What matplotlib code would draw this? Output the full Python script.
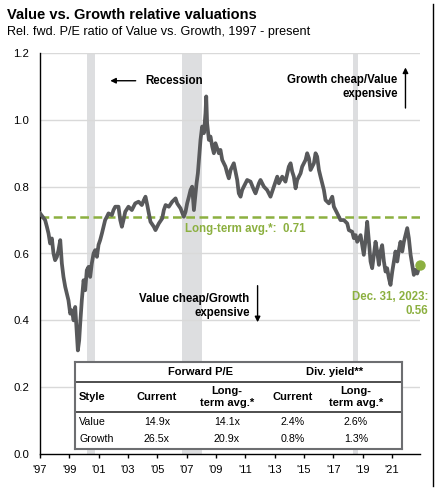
import matplotlib
matplotlib.use("Agg")
import numpy as np
from matplotlib import pyplot as plt
from matplotlib.lines import Line2D

plt.rcParams['font.family'] = ['Liberation Sans', 'DejaVu Sans']

# relative fwd P/E, value vs growth
years = [1997.01, 1997.35, 1997.47, 1997.58, 1997.69, 1997.81, 1997.92, 1998.03, 1998.15, 1998.26,
         1998.38, 1998.49, 1998.60, 1998.72, 1998.83, 1998.94, 1999.06, 1999.17, 1999.29, 1999.40,
         1999.51, 1999.58, 1999.67, 1999.74, 1999.85, 1999.97, 2000.08, 2000.19, 2000.31, 2000.42,
         2000.53, 2000.65, 2000.76, 2000.88, 2000.99, 2001.10, 2001.22, 2001.33, 2001.44, 2001.56,
         2001.67, 2001.90, 2002.01, 2002.13, 2002.35, 2002.47, 2002.58, 2002.69, 2002.81, 2003.03,
         2003.26, 2003.49, 2003.72, 2003.94,
         2004.08, 2004.19, 2004.31, 2004.42, 2004.53, 2004.76, 2004.87, 2005.10, 2005.33, 2005.44,
         2005.56, 2005.78, 2006.01, 2006.24, 2006.35, 2006.58, 2006.80, 2006.92, 2007.03, 2007.15,
         2007.26, 2007.37, 2007.49, 2007.67, 2007.76, 2007.85, 2007.94, 2008.05, 2008.17, 2008.28,
         2008.33, 2008.39, 2008.51, 2008.62, 2008.74, 2008.85, 2008.96, 2009.19, 2009.30, 2009.42,
         2009.64, 2009.76, 2009.87, 2009.99, 2010.10, 2010.21, 2010.44, 2010.55, 2010.67, 2010.78,
         2010.89, 2011.12,
         2011.35, 2011.58, 2011.69, 2011.92, 2012.03, 2012.26, 2012.48, 2012.71, 2012.94, 2013.17,
         2013.28, 2013.51, 2013.73, 2013.96, 2014.08, 2014.19, 2014.30, 2014.42, 2014.53, 2014.76,
         2014.87, 2015.10, 2015.21, 2015.33, 2015.44, 2015.67, 2015.78, 2015.89, 2016.01, 2016.12,
         2016.35, 2016.46, 2016.69, 2016.92, 2017.03, 2017.26, 2017.48,
         2017.71, 2017.94, 2018.05, 2018.28, 2018.39, 2018.51, 2018.62, 2018.85, 2018.96, 2019.07,
         2019.19, 2019.30, 2019.42, 2019.53, 2019.64, 2019.76, 2019.87, 2019.98, 2020.10, 2020.21,
         2020.32, 2020.44, 2020.55, 2020.66, 2020.78, 2020.89, 2021.01, 2021.12, 2021.23, 2021.35,
         2021.46, 2021.57, 2021.69, 2021.80, 2021.91, 2022.03, 2022.14, 2022.26, 2022.37, 2022.48,
         2022.60, 2022.71, 2022.82, 2022.89]
ratio = [0.72, 0.70, 0.68, 0.66, 0.63, 0.645, 0.60, 0.58, 0.59, 0.61,
         0.64, 0.57, 0.53, 0.50, 0.48, 0.46, 0.42, 0.43, 0.40, 0.44,
         0.36, 0.31, 0.34, 0.39, 0.46, 0.52, 0.49, 0.55, 0.56, 0.53,
         0.57, 0.60, 0.61, 0.59, 0.626, 0.64, 0.66, 0.68, 0.70, 0.71,
         0.72, 0.715, 0.73, 0.74, 0.74, 0.70, 0.68, 0.70, 0.725, 0.74,
         0.73, 0.75, 0.755, 0.745,
         0.76, 0.77, 0.745, 0.72, 0.695, 0.68, 0.67, 0.69, 0.705, 0.73,
         0.745, 0.74, 0.755, 0.765, 0.75, 0.735, 0.71, 0.725, 0.75, 0.77,
         0.79, 0.80, 0.73, 0.81, 0.84, 0.89, 0.94, 0.98, 0.96, 1.02,
         1.07, 0.99, 0.94, 0.95, 0.92, 0.90, 0.93, 0.90, 0.91, 0.88,
         0.86, 0.84, 0.825, 0.85, 0.86, 0.87, 0.82, 0.78, 0.77, 0.79,
         0.80, 0.82,
         0.815, 0.79, 0.78, 0.81, 0.82, 0.80, 0.79, 0.77, 0.80, 0.83,
         0.81, 0.83, 0.815, 0.86, 0.87, 0.845, 0.83, 0.795, 0.82, 0.84,
         0.86, 0.88, 0.90, 0.885, 0.85, 0.87, 0.90, 0.89, 0.85, 0.83,
         0.79, 0.76, 0.75, 0.77, 0.74, 0.72, 0.70,
         0.70, 0.69, 0.67, 0.665, 0.646, 0.655, 0.635, 0.655, 0.626, 0.596,
         0.64, 0.695, 0.635, 0.576, 0.556, 0.596, 0.635, 0.606, 0.566, 0.606,
         0.625, 0.576, 0.546, 0.556, 0.526, 0.506, 0.546, 0.576, 0.606, 0.576,
         0.61, 0.635, 0.606, 0.635, 0.655, 0.676, 0.646, 0.596, 0.566, 0.536,
         0.551, 0.54, 0.556, 0.566]

long_term_avg = 0.71
recessions = [(2000.2, 2000.73), (2006.66, 2008.02), (2018.3, 2018.65)]
xticks = list(range(1997, 2022, 2))
xtick_labels = ["'%02d" % (y % 100) for y in xticks]
yticks = [0.0, 0.2, 0.4, 0.6, 0.8, 1.0, 1.2]

table_cols = ["Style", "Current", "Long-\nterm avg.*", "Current", "Long-\nterm avg.*"]
table_rows = [["Value", "14.9x", "14.1x", "2.4%", "2.6%"],
              ["Growth", "26.5x", "20.9x", "0.8%", "1.3%"]]

GRAY = '#58595B'
GREEN = '#8CB040'

fig = plt.figure(figsize=(4.41, 4.94), dpi=100)
ax = fig.add_axes([40 / 441, 40 / 494, 380 / 441, 401 / 494])

for a, b in recessions:
    ax.axvspan(a, b, color='#DDDEE0', lw=0, zorder=0)
for y in yticks[1:]:
    ax.axhline(y, color='#D9D9D9', lw=1, zorder=0.5)

ax.axhline(long_term_avg, color=GREEN, lw=1.8, ls=(0, (3.5, 1.8)), zorder=2)
ax.plot(years, ratio, color=GRAY, lw=2.7, zorder=3)
ax.plot(years[-1], ratio[-1], 'o', color=GREEN, ms=6.5, zorder=4, clip_on=False)

ax.set_xlim(1997, 2022.9)
ax.set_ylim(0, 1.2)
ax.set_xticks(xticks)
ax.set_xticklabels(xtick_labels)
ax.set_yticks(yticks)
ax.set_yticklabels(['%.1f' % y for y in yticks])
ax.tick_params(axis='x', length=3, width=1, direction='out', pad=5, labelsize=8)
ax.tick_params(axis='y', length=0, pad=8, labelsize=8.2)
for s in ['top', 'right']:
    ax.spines[s].set_visible(False)
ax.spines['left'].set_linewidth(1)
ax.spines['bottom'].set_linewidth(1)

# annotations
ax.text(2006.85, 0.674, "Long-term avg.*:  0.71", color=GREEN, fontsize=8.3,
        fontweight='bold', va='center', ha='left')
ax.text(2023.48, 0.449, "Dec. 31, 2023:\n0.56", color=GREEN, fontsize=8.3,
        fontweight='bold', va='center', ha='right', clip_on=False, linespacing=1.25)
ax.text(2004.19, 1.117, "Recession", fontsize=8.3, fontweight='bold', va='center', ha='left')
ax.annotate("", xy=(2001.6, 1.117), xytext=(2003.71, 1.117),
            arrowprops=dict(arrowstyle='-|>', color='black', lw=1, mutation_scale=8))
ax.text(2021.37, 1.099, "Growth cheap/Value\nexpensive", fontsize=8.3, fontweight='bold',
        va='center', ha='right', multialignment='right', linespacing=1.25)
ax.annotate("", xy=(2021.91, 1.165), xytext=(2021.91, 1.027),
            arrowprops=dict(arrowstyle='-|>', color='black', lw=1, mutation_scale=8))
ax.text(2011.28, 0.443, "Value cheap/Growth\nexpensive", fontsize=8.3, fontweight='bold',
        va='center', ha='right', multialignment='right', linespacing=1.25)
ax.annotate("", xy=(2011.83, 0.386), xytext=(2011.83, 0.512),
            arrowprops=dict(arrowstyle='-|>', color='black', lw=1, mutation_scale=8))

# title
fig.text(7 / 441, 1 - 15 / 494, "Value vs. Growth relative valuations", fontsize=10.5,
         fontweight='bold', va='center', ha='left')
fig.text(7 / 441, 1 - 32 / 494, "Rel. fwd. P/E ratio of Value vs. Growth, 1997 - present",
         fontsize=9.1, va='center', ha='left')

# right border line
fig.add_artist(Line2D([433 / 441, 433 / 441], [1 - 4 / 494, 1 - 486 / 494],
                      color='black', lw=1, transform=fig.transFigure))

# table, coordinates in pixel-like units of its own box
tx = fig.add_axes([75 / 441, (494 - 449) / 494, (402 - 75) / 441, (449 - 362) / 494])
tx.set_xlim(75, 402)
tx.set_ylim(449, 362)
tx.set_xticks([])
tx.set_yticks([])
tx.set_facecolor('white')
for s in tx.spines.values():
    s.set_color('#6D6E71')
    s.set_linewidth(1.5)
tx.axhline(382, color='#404040', lw=1.3)
tx.axhline(412, color='#404040', lw=1.3)

col_x = [79, 157, 227, 293, 356]
tx.text(200, 372, "Forward P/E", fontsize=8, fontweight='bold', ha='center', va='center')
tx.text(335, 372, "Div. yield**", fontsize=8, fontweight='bold', ha='center', va='center')
for i, c in enumerate(table_cols):
    tx.text(col_x[i], 397, c, fontsize=8, fontweight='bold', va='center',
            ha='left' if i == 0 else 'center', linespacing=1.3)
for r, row_y in zip(table_rows, [422, 439]):
    for i, v in enumerate(r):
        tx.text(col_x[i], row_y, v, fontsize=7.7, va='center',
                ha='left' if i == 0 else 'center')

fig.savefig('out.png', dpi=100)
